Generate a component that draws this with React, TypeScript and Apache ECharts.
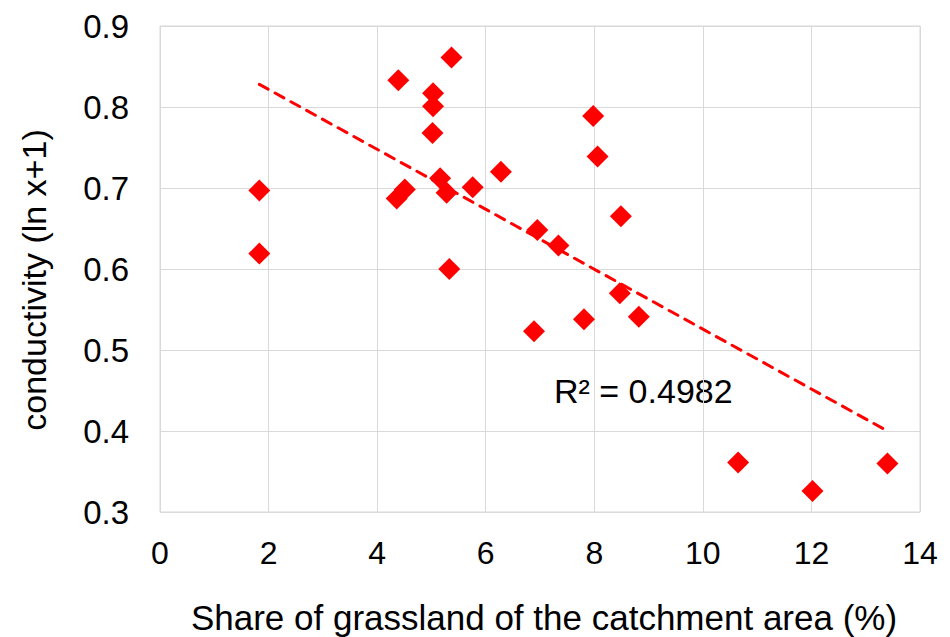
import React, { useEffect, useRef } from "react";
import * as echarts from "echarts";

// Share of grassland in the catchment (%) and conductivity (ln x+1)
const grassland: number[] = [
  5.37, 4.39, 5.03, 5.03, 5.02, 1.83, 1.83, 4.51, 4.36, 5.16, 5.28, 5.76, 6.28,
  5.33, 6.95, 7.98, 8.06, 8.49, 7.34, 8.47, 6.89, 7.81, 8.82, 10.65, 12.02, 13.4,
];
const conductivity: number[] = [
  0.861, 0.833, 0.817, 0.801, 0.768, 0.697, 0.619, 0.698, 0.687, 0.712, 0.694,
  0.701, 0.72, 0.6, 0.648, 0.789, 0.739, 0.665, 0.629, 0.57, 0.523, 0.538,
  0.541, 0.361, 0.326, 0.36,
];

// Linear trend line end points
const trendX: number[] = [1.83, 13.4];
const trendY: number[] = [0.828, 0.4];

const rSquaredText = "R² = 0.4982";
const xTitle = "Share of grassland of the catchment area (%)";
const yTitle = "conductivity (ln x+1)";

const FONT = "'Liberation Sans', Arial, sans-serif";
const NARROW = "'Liberation Sans Narrow', 'Arial Narrow', 'Liberation Sans', sans-serif";

export default function App() {
  const ref = useRef<HTMLDivElement>(null);

  useEffect(() => {
    if (!ref.current) return;
    const chart = echarts.init(ref.current, undefined, { renderer: "svg" });

    const points = grassland.map((x, i) => [x, conductivity[i]]);
    const trend = trendX.map((x, i) => [x, trendY[i]]);

    chart.setOption({
      animation: false,
      backgroundColor: "#ffffff",
      grid: {
        left: 160,
        right: 30,
        top: 26,
        bottom: 125,
        show: true,
        borderColor: "#d9d9d9",
        borderWidth: 1,
        containLabel: false,
      },
      xAxis: {
        type: "value",
        min: 0,
        max: 14,
        interval: 2,
        axisLine: { show: false },
        axisTick: { show: false },
        splitLine: { show: true, lineStyle: { color: "#d9d9d9", width: 1 } },
        axisLabel: {
          color: "#000",
          fontSize: 32,
          fontFamily: NARROW,
          margin: 25,
        },
      },
      yAxis: {
        type: "value",
        min: 0.3,
        max: 0.9,
        interval: 0.1,
        axisLine: { show: false },
        axisTick: { show: false },
        splitLine: { show: true, lineStyle: { color: "#d9d9d9", width: 1 } },
        axisLabel: {
          color: "#000",
          fontSize: 33,
          fontFamily: FONT,
          margin: 31,
          formatter: (v: number) => v.toFixed(1),
        },
      },
      graphic: [
        {
          type: "text",
          x: 544,
          y: 617,
          style: {
            text: xTitle,
            fontSize: 35,
            fontFamily: FONT,
            fill: "#000",
            align: "center",
            verticalAlign: "middle",
          },
        },
        {
          type: "text",
          x: 34,
          y: 280,
          rotation: Math.PI / 2,
          style: {
            text: yTitle,
            fontSize: 34,
            fontFamily: FONT,
            fill: "#000",
            align: "center",
            verticalAlign: "middle",
          },
        },
        {
          type: "text",
          x: 554,
          y: 391,
          style: {
            text: rSquaredText,
            fontSize: 34,
            fontFamily: FONT,
            fill: "#000",
            align: "left",
            verticalAlign: "middle",
          },
        },
      ],
      series: [
        {
          type: "line",
          data: trend,
          symbol: "none",
          silent: true,
          lineStyle: { color: "#ff0000", width: 3, type: [10, 8], cap: "round" },
          z: 2,
        },
        {
          type: "scatter",
          data: points,
          symbol: "diamond",
          symbolSize: 22,
          itemStyle: { color: "#ff0000", opacity: 1 },
          z: 3,
        },
      ],
    });

    return () => chart.dispose();
  }, []);

  return (
    <div
      ref={ref}
      style={{ position: "absolute", left: 0, top: 0, width: 950, height: 637 }}
    />
  );
}
